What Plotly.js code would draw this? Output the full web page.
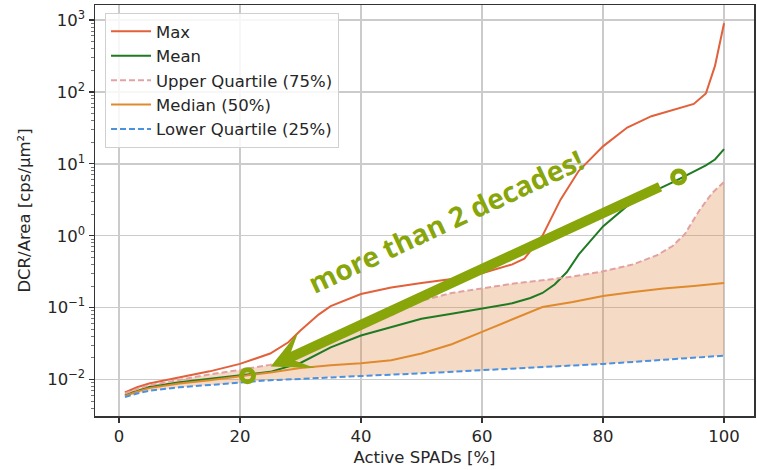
<!DOCTYPE html>
<html>
<head>
<meta charset="utf-8">
<script src="https://cdn.plot.ly/plotly-3.0.1.min.js"></script>
<style>html,body{margin:0;padding:0;background:#fff;}#chart{width:757px;height:470px;}</style>
</head>
<body>
<div id="chart"></div>
<script>
// ---- Data ----
const xMax = [1, 3, 5, 10, 15, 20, 25, 28, 30, 33, 35, 40, 45, 50, 55, 60, 65, 67, 70, 73, 76, 80, 84, 88, 92, 95, 97, 98.5, 100];
const yMax = [0.0066, 0.0078, 0.0088, 0.0108, 0.0130, 0.0165, 0.023, 0.033, 0.048, 0.080, 0.105, 0.155, 0.19, 0.22, 0.25, 0.30, 0.40, 0.48, 1.0, 3.2, 8.0, 17.5, 32, 46, 58, 68, 95, 230, 900];

const xMean = [1, 3, 5, 10, 15, 20, 25, 30, 35, 40, 45, 50, 55, 60, 65, 68, 70, 72, 74, 76, 80, 84, 88, 92, 95, 97, 98.5, 100];
const yMean = [0.0061, 0.0070, 0.0079, 0.0092, 0.0103, 0.0115, 0.0128, 0.017, 0.028, 0.041, 0.054, 0.070, 0.082, 0.097, 0.115, 0.136, 0.16, 0.21, 0.31, 0.55, 1.35, 2.6, 4.0, 5.8, 7.7, 9.5, 11.5, 16];

const xUpper = [1, 3, 5, 10, 15, 20, 25, 30, 35, 40, 45, 50, 55, 60, 65, 70, 75, 80, 85, 89, 91.5, 93.5, 96, 98, 100];
const yUpper = [0.0064, 0.0074, 0.0083, 0.0100, 0.0118, 0.0136, 0.016, 0.021, 0.034, 0.052, 0.078, 0.125, 0.16, 0.185, 0.215, 0.24, 0.27, 0.32, 0.40, 0.54, 0.72, 1.05, 2.3, 3.9, 5.6];

const xMedian = [1, 3, 5, 10, 15, 20, 25, 30, 35, 40, 45, 50, 55, 60, 65, 70, 75, 80, 85, 90, 95, 100];
const yMedian = [0.0059, 0.0068, 0.0076, 0.0088, 0.0098, 0.0110, 0.0125, 0.0145, 0.0158, 0.0168, 0.0185, 0.023, 0.031, 0.046, 0.068, 0.102, 0.12, 0.145, 0.165, 0.185, 0.20, 0.22];

const xLower = [1, 3, 5, 10, 15, 20, 25, 30, 35, 40, 50, 60, 70, 80, 90, 100];
const yLower = [0.0057, 0.0064, 0.0070, 0.0078, 0.0084, 0.0090, 0.0098, 0.0102, 0.0108, 0.0112, 0.0122, 0.0135, 0.0147, 0.0165, 0.0188, 0.0215];

const seriesNames = ['Max', 'Mean', 'Upper Quartile (75%)', 'Median (50%)', 'Lower Quartile (25%)'];

const xTickVals = [0, 20, 40, 60, 80, 100];
const yTickVals = [0.01, 0.1, 1, 10, 100, 1000];
const yTickText = ['10<sup>−2</sup>', '10<sup>−1</sup>', '10<sup>0</sup>', '10<sup>1</sup>', '10<sup>2</sup>', '10<sup>3</sup>'];

// annotation markers (highlighted points)
const circleX = [21.25, 92.5];
const circleY = [0.01133, 6.57];

// ---- Styles ----
const OLIVE = '#88a50a';
const FONT = 'DejaVu Sans, sans-serif';
const TXT = '#262626';

const yMinor = [];
for (let e = -3; e <= 3; e++) for (let d = 2; d <= 9; d++) yMinor.push(d * Math.pow(10, e));

const fillTrace = {
  x: xUpper.concat(xLower.slice().reverse()),
  y: yUpper.concat(yLower.slice().reverse()),
  fill: 'toself', fillcolor: 'rgba(221,132,62,0.3)',
  mode: 'none', showlegend: false, hoverinfo: 'skip'
};

const traces = [
  fillTrace,
  {x: xMax, y: yMax, name: seriesNames[0], mode: 'lines', line: {color: '#e2603a', width: 2}, legendgroup: 'a'},
  {x: xMean, y: yMean, name: seriesNames[1], mode: 'lines', line: {color: '#1f7a22', width: 2}, legendgroup: 'b'},
  {x: xUpper, y: yUpper, name: seriesNames[2], mode: 'lines', line: {color: '#e3a2a2', width: 2, dash: '6px,3px'}, legendgroup: 'c'},
  {x: xMedian, y: yMedian, name: seriesNames[3], mode: 'lines', line: {color: '#e08a2e', width: 2}, legendgroup: 'd'},
  {x: xLower, y: yLower, name: seriesNames[4], mode: 'lines', line: {color: '#4a92e0', width: 2, dash: '6px,3px'}, legendgroup: 'e'},
  {x: circleX, y: circleY, mode: 'markers', showlegend: false, hoverinfo: 'skip',
   marker: {symbol: 'circle-open', size: 12, color: OLIVE, line: {width: 5, color: OLIVE}}}
];

const layout = {
  width: 757, height: 470,
  margin: {l: 95, r: 3, t: 5, b: 54},
  paper_bgcolor: '#ffffff', plot_bgcolor: '#ffffff',
  font: {family: FONT, size: 16.5, color: TXT},
  showlegend: true,
  legend: {
    x: 0.0152, y: 0.9805, xanchor: 'left', yanchor: 'top',
    bgcolor: 'rgba(255,255,255,0.85)', bordercolor: '#d0d0d0', borderwidth: 1,
    font: {family: FONT, size: 16.5, color: TXT},
    traceorder: 'grouped', tracegroupgap: 0, itemwidth: 40
  },
  xaxis: {
    range: [-3.95, 104.95], tickmode: 'array', tickvals: xTickVals,
    ticks: 'outside', ticklen: 5, tickwidth: 1.2, tickcolor: '#333',
    showgrid: true, gridcolor: '#cbcbcb', gridwidth: 1.5, zeroline: false,
    showline: true, linecolor: '#333', linewidth: 1.5, mirror: true,
    tickfont: {family: FONT, size: 16.5, color: TXT},
    title: {text: 'Active SPADs [%]', font: {family: FONT, size: 16.5, color: TXT}, standoff: 6}
  },
  yaxis: {
    type: 'log', range: [-2.507, 3.209], tickmode: 'array', tickvals: yTickVals, ticktext: yTickText,
    ticks: 'outside', ticklen: 5, tickwidth: 1.2, tickcolor: '#333',
    minor: {tickmode: 'array', tickvals: yMinor, ticks: 'outside', ticklen: 3, tickwidth: 0.8, tickcolor: '#555', showgrid: false},
    showgrid: true, gridcolor: '#cbcbcb', gridwidth: 1.5, zeroline: false,
    showline: true, linecolor: '#333', linewidth: 1.5, mirror: true,
    tickfont: {family: FONT, size: 16.5, color: TXT},
    title: {text: 'DCR/Area [cps/µm²]', font: {family: FONT, size: 16.5, color: TXT}, standoff: 12}
  },
  annotations: [
    {x: 25.08, y: -1.82, ax: 89.67, ay: 0.692, xref: 'x', yref: 'y', axref: 'x', ayref: 'y',
     text: '', showarrow: true, arrowhead: 3, arrowsize: 0.66, arrowwidth: 10, arrowcolor: OLIVE, standoff: 0},
    {x: 54.0, y: 0.2, xref: 'x', yref: 'y', text: '<b>more than 2 decades!</b>', showarrow: false,
     textangle: -25, font: {family: 'Open Sans, sans-serif', size: 28, color: OLIVE}}
  ]
};

Plotly.newPlot('chart', traces, layout, {staticPlot: true, displayModeBar: false});
</script>
</body>
</html>
